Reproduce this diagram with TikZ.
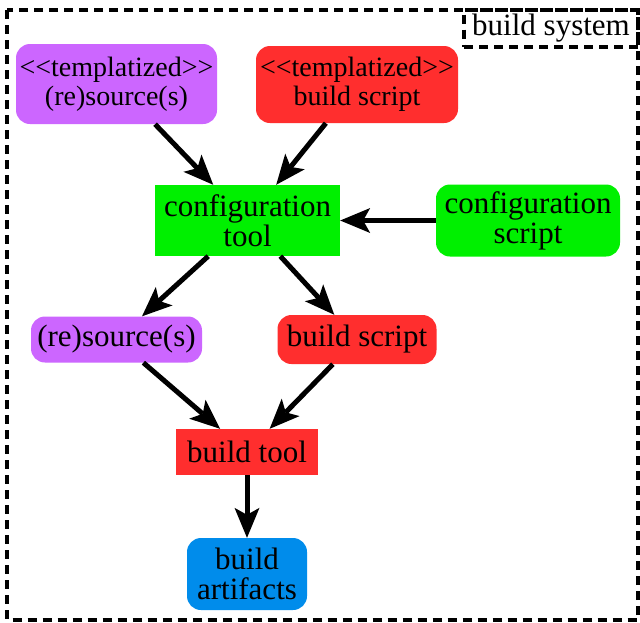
\documentclass[tikz,border=0pt]{standalone}
\usepackage{fontspec}
\setmainfont{Liberation Serif}
\newfontfamily\plainfont{Liberation Serif}
\usetikzlibrary{arrows.meta}
\definecolor{cpurple}{RGB}{204,102,255}
\definecolor{cred}{RGB}{255,46,46}
\definecolor{cgreen}{RGB}{0,240,0}
\definecolor{cblue}{RGB}{0,140,235}
\begin{document}
\begin{tikzpicture}[x=1pt,y=-1pt,
  box/.style={inner sep=0pt, align=center, font=\fontsize{31}{30}\selectfont},
  rbox/.style={box, rounded corners=14pt},
  topbox/.style={rbox, font=\fontsize{28}{29}\selectfont},
  conn/.style={line width=5pt, -{Stealth[length=30pt,width=25pt,inset=7pt,line width=0pt]}},
  frame/.style={line width=4pt, dash pattern=on 9pt off 6pt}]
\useasboundingbox (0,0) rectangle (640,622);
\fill[white] (0,0) rectangle (640,622);
\draw[frame] (7,10) rectangle (638,619.5);
\node[box, draw, frame, minimum width=174pt, minimum height=37pt] (lbl) at (551,28.2) {build system};

\node[topbox, fill=cpurple, minimum width=201pt, minimum height=80pt] (tres) at (116.5,84) {{\plainfont <<templatized>>}\\(re)source(s)};
\node[topbox, fill=cred, minimum width=202pt, minimum height=77pt] (tbs) at (357,84.5) {{\plainfont <<templatized>>}\\build script};
\node[box, fill=cgreen, minimum width=185pt, minimum height=71pt] (ctool) at (247.5,220.5) {configuration\\tool};
\node[rbox, fill=cgreen, minimum width=184pt, minimum height=72pt] (cscript) at (528,220.5) {configuration\\script};
\node[rbox, fill=cpurple, minimum width=171pt, minimum height=46pt] (res) at (116.5,339.5) {(re)source(s)};
\node[rbox, fill=cred, minimum width=159pt, minimum height=49pt] (bs) at (357,339.5) {build script};
\node[box, fill=cred, minimum width=142pt, minimum height=46pt] (btool) at (247,452) {build tool};
\node[rbox, fill=cblue, minimum width=120pt, minimum height=72pt] (art) at (247,574) {build\\artifacts};

\draw[conn] (tres) -- (ctool);
\draw[conn] (tbs) -- (ctool);
\draw[conn] (cscript) -- (ctool);
\draw[conn] (ctool) -- (res);
\draw[conn] (ctool) -- (bs);
\draw[conn] (res) -- (btool);
\draw[conn] (bs) -- (btool);
\draw[conn] (btool) -- (art);
\end{tikzpicture}
\end{document}
